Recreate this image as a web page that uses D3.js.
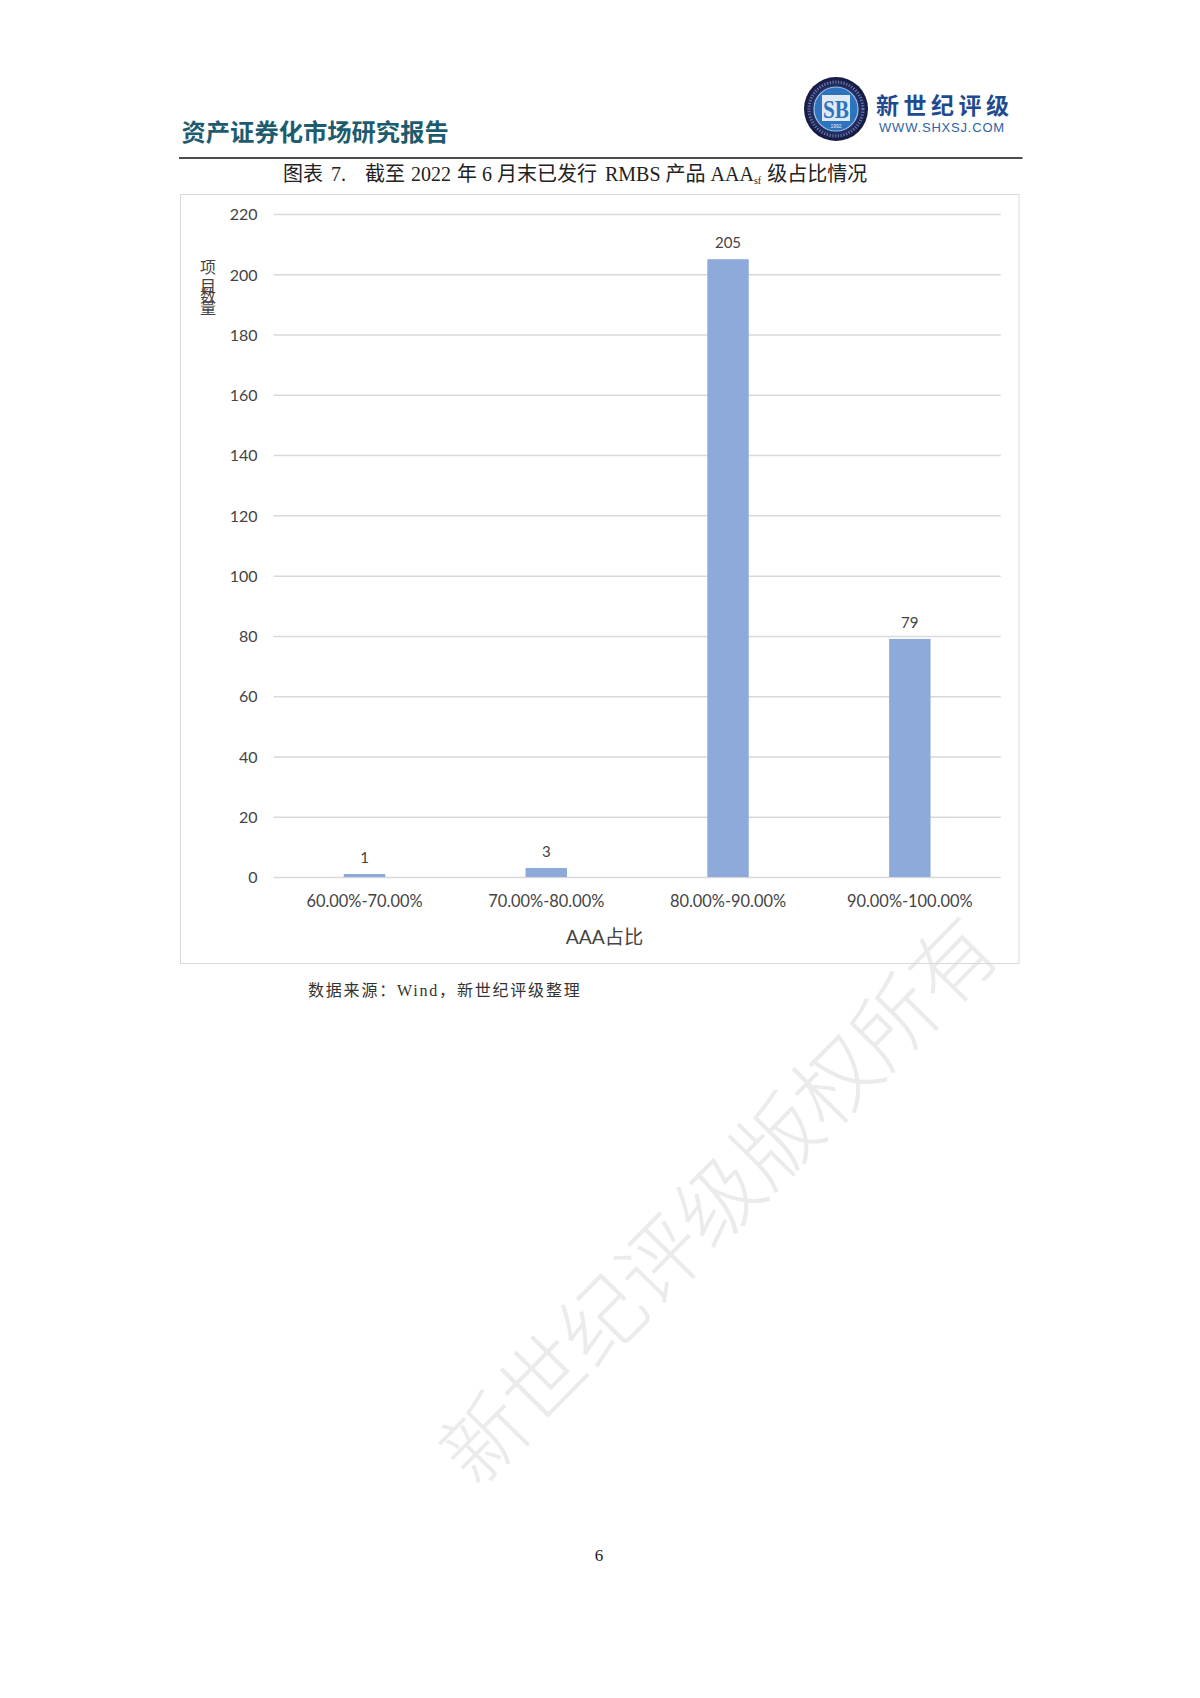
<!DOCTYPE html>
<html lang="zh-CN"><head><meta charset="utf-8">
<script src="https://cdn.jsdelivr.net/npm/d3@7/dist/d3.min.js"></script>
<style>
html,body{margin:0;padding:0;background:#fff}
svg{display:block}
.cjk{font-family:"Liberation Serif","Noto Sans CJK SC",serif}
.chart text{font-family:Lato,"Noto Sans CJK SC",sans-serif;fill:#444}
</style></head><body><div id="c"></div>
<script>
const categories = ["60.00%-70.00%","70.00%-80.00%","80.00%-90.00%","90.00%-100.00%"];
const values = [1,3,205,79];
const yTicks = [0,20,40,60,80,100,120,140,160,180,200,220];
const headerText = "资产证券化市场研究报告";
const brandText = "新世纪评级";
const siteText = "WWW.SHXSJ.COM";
const sourceText = "数据来源：Wind，新世纪评级整理";
const watermarkText = "新世纪评级版权所有";
const yTitle = "项目数量";
const xTitle = "AAA占比";
const pageNo = "6";

const svg = d3.select("#c").append("svg").attr("width",1200).attr("height",1698);

// watermark
svg.append("text").text(watermarkText)
  .attr("transform","translate(714.5,1196) rotate(-45.5)")
  .attr("text-anchor","middle").attr("dominant-baseline","central")
  .attr("font-family","'Noto Sans CJK SC'").attr("font-weight",300)
  .attr("font-size",83.5).attr("fill","#ebebeb");

// header
svg.append("text").text(headerText).attr("x",181.5).attr("y",141)
  .attr("font-family","'Noto Sans CJK SC'").attr("font-weight",700)
  .attr("font-size",24.3).attr("fill","#1d5c6e");
svg.append("line").attr("x1",179).attr("x2",1022.5).attr("y1",158).attr("y2",158)
  .attr("stroke","#111").attr("stroke-width",1.6);

// logo
const defs = svg.append("defs");
const g1 = defs.append("radialGradient").attr("id","ring");
g1.append("stop").attr("offset","0.6").attr("stop-color","#2b3a78");
g1.append("stop").attr("offset","1").attr("stop-color","#13183f");
const logo = svg.append("g").attr("transform","translate(836,109)");
logo.append("circle").attr("r",32).attr("fill","url(#ring)");
logo.append("circle").attr("r",27).attr("fill","none").attr("stroke","#8d9ac4")
  .attr("stroke-width",3).attr("stroke-dasharray","1.2 1.6").attr("opacity",0.7);
logo.append("circle").attr("r",22).attr("fill","#2e74bd").attr("stroke","#9fc0e6").attr("stroke-width",1.2);
logo.append("rect").attr("x",-14).attr("y",-14).attr("width",28).attr("height",26).attr("fill","#dfeaf6");
logo.append("text").text("SB").attr("text-anchor","middle").attr("y",9)
  .attr("font-family","'Liberation Serif'").attr("font-weight",700).attr("font-size",26)
  .attr("textLength",26).attr("lengthAdjust","spacingAndGlyphs").attr("fill","#2e74bd");
logo.append("text").text("1992").attr("text-anchor","middle").attr("y",19)
  .attr("font-family","'Liberation Sans'").attr("font-size",5).attr("fill","#e5eef8");
svg.append("text").text(brandText).attr("x",876).attr("y",114)
  .attr("font-family","'Noto Sans CJK SC'").attr("font-weight",700)
  .attr("font-size",23).attr("letter-spacing",4.5).attr("fill","#1f4a8f");
svg.append("text").text(siteText).attr("x",879).attr("y",132)
  .attr("font-family","'Liberation Sans'").attr("font-size",13).attr("letter-spacing",0.8).attr("fill","#2f62a6");

// caption
const cap = svg.append("text").attr("class","cjk").attr("x",283).attr("y",181)
  .attr("font-size",20).attr("fill","#222").style("white-space","pre");
cap.append("tspan").text("图表 ");
cap.append("tspan").text("7.").attr("dx",3);
cap.append("tspan").text("   截至 ").attr("dx",4);
cap.append("tspan").text("2022").attr("dx",1);
cap.append("tspan").text(" 年 6 月末已发行 ").attr("dx",1);
cap.append("tspan").text("RMBS").attr("dx",3);
cap.append("tspan").text(" 产品 AAA").attr("dx",0);
cap.append("tspan").text("sf").attr("font-size",10).attr("dy",3);
cap.append("tspan").text("级占比情况").attr("dy",-3).attr("dx",6);

// chart frame
const chart = svg.append("g").attr("class","chart");
chart.append("rect").attr("x",180.5).attr("y",194.5).attr("width",838.5).attr("height",769)
  .attr("fill","none").attr("stroke","#d9d9d9");

const x = d3.scaleBand().domain(categories).range([273.6,1000.7]).paddingInner(0.772).paddingOuter(0.386);
const y = d3.scaleLinear().domain([0,220]).range([877,214]);

const yAxis = chart.append("g").attr("transform","translate(273.6,0)")
  .call(d3.axisLeft(y).tickValues(yTicks).tickSize(-727.1).tickPadding(16));
yAxis.select(".domain").remove();
yAxis.selectAll("line").attr("stroke","#d9d9d9").attr("stroke-width",1.5);
yAxis.selectAll("text").attr("font-size",16).attr("font-family",null).attr("dy","0.36em");

chart.selectAll("rect.bar").data(values).join("rect").attr("class","bar")
  .attr("x",(d,i)=>x(categories[i])).attr("width",x.bandwidth())
  .attr("y",d=>y(d)).attr("height",d=>y(0)-y(d)).attr("fill","#8eaadb");

chart.selectAll("text.val").data(values).join("text").attr("class","val")
  .attr("x",(d,i)=>x(categories[i])+x.bandwidth()/2).attr("y",d=>y(d)-11)
  .attr("text-anchor","middle").attr("font-size",15).text(d=>d);

const xAxis = chart.append("g").attr("transform","translate(0,877)")
  .call(d3.axisBottom(x).tickSize(0).tickPadding(18));
xAxis.select(".domain").remove();
xAxis.selectAll("text").attr("font-size",16.4).attr("font-family",null);

chart.append("text").text(xTitle).attr("x",604.5).attr("y",944).attr("text-anchor","middle").attr("font-size",19.3);

// y title: glyphs crowd together in the source
chart.append("text").text(yTitle).attr("x","208 208 208 208").attr("y","273 292 302 314")
  .attr("text-anchor","middle").attr("font-size",16);

// source and page number
svg.append("text").attr("class","cjk").text(sourceText).attr("x",308).attr("y",996)
  .attr("font-size",16).attr("letter-spacing",1.8).attr("fill","#333");
svg.append("text").text(pageNo).attr("x",599).attr("y",1561).attr("text-anchor","middle")
  .attr("font-family","'Liberation Serif'").attr("font-size",17).attr("fill","#222");
</script></body></html>
